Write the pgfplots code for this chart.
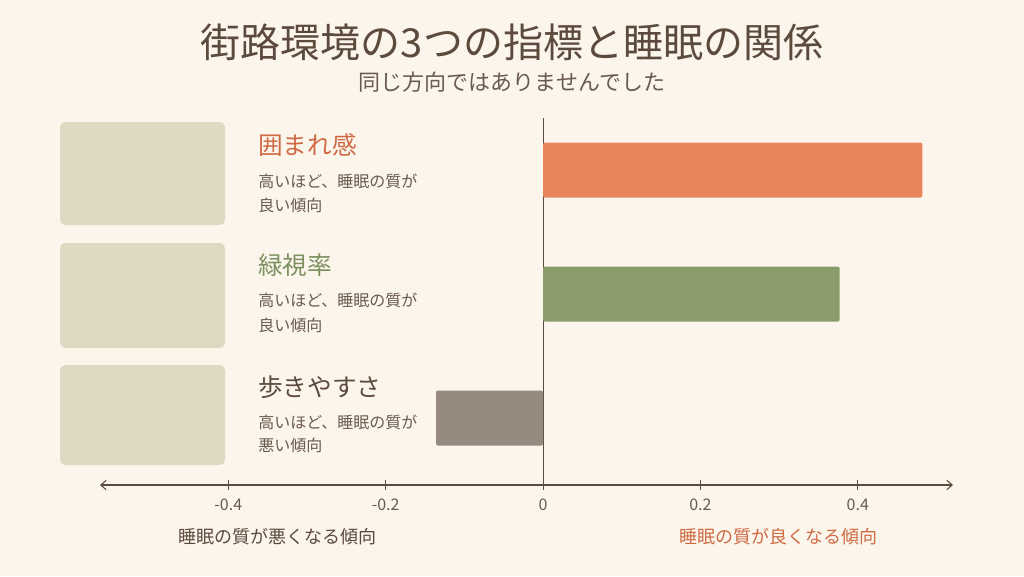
\documentclass[border=0pt]{standalone}
\usepackage{pgfplots}
\pgfplotsset{compat=1.18}
\usepackage{fontspec}
\setmainfont{Noto Sans CJK JP}
\usetikzlibrary{arrows.meta}
\definecolor{Bg}{HTML}{FBF5EC}
\definecolor{Ink}{HTML}{5C4A3D}
\definecolor{SubInk}{HTML}{6B5A4E}
\definecolor{Orange}{HTML}{E8855A}
\definecolor{OrangeTxt}{HTML}{CF6B44}
\definecolor{Sage}{HTML}{8B9C6C}
\definecolor{SageTxt}{HTML}{7D9160}
\definecolor{Taupe}{HTML}{968A7E}
\definecolor{Photo}{HTML}{C9C39E}

\begin{document}
\begin{tikzpicture}
% canvas 1024x576 px, 1 px = 0.75pt
\fill[Bg] (0,0) rectangle (768pt,-432pt);

% title and subtitle
\node[text=Ink, font=\fontsize{30pt}{34pt}\selectfont] at (384pt,-31.5pt) {街路環境の3つの指標と睡眠の関係};
\node[text=SubInk, font=\fontsize{16.5pt}{20pt}\selectfont] at (384pt,-61.5pt) {同じ方向ではありませんでした};

% picture placeholders
\fill[Photo, opacity=0.55, rounded corners=4pt] (45pt,-91.5pt) rectangle (168.75pt,-168.75pt);
\fill[Photo, opacity=0.55, rounded corners=4pt] (45pt,-182.25pt) rectangle (168.75pt,-261pt);
\fill[Photo, opacity=0.55, rounded corners=4pt] (45pt,-273.75pt) rectangle (168.75pt,-348.75pt);

% row labels
\begin{scope}[every node/.style={anchor=west, inner sep=0pt}]
\node[text=OrangeTxt, font=\fontsize{18.5pt}{22pt}\selectfont] at (193.5pt,-108.5pt) {囲まれ感};
\node[text=SubInk, font=\fontsize{12pt}{14pt}\selectfont] at (193.5pt,-135.75pt) {高いほど、睡眠の質が};
\node[text=SubInk, font=\fontsize{12pt}{14pt}\selectfont] at (193.5pt,-153.75pt) {良い傾向};
\node[text=SageTxt, font=\fontsize{18.5pt}{22pt}\selectfont] at (193.5pt,-198.75pt) {緑視率};
\node[text=SubInk, font=\fontsize{12pt}{14pt}\selectfont] at (193.5pt,-225pt) {高いほど、睡眠の質が};
\node[text=SubInk, font=\fontsize{12pt}{14pt}\selectfont] at (193.5pt,-243.75pt) {良い傾向};
\node[text=Ink, font=\fontsize{18.5pt}{22pt}\selectfont] at (193.5pt,-290.25pt) {歩きやすさ};
\node[text=SubInk, font=\fontsize{12pt}{14pt}\selectfont] at (193.5pt,-316.5pt) {高いほど、睡眠の質が};
\node[text=SubInk, font=\fontsize{12pt}{14pt}\selectfont] at (193.5pt,-333.75pt) {悪い傾向};
\end{scope}

\begin{axis}[
    at={(75pt,-363.75pt)}, anchor=south west,
    scale only axis,
    width=639.75pt, height=275.25pt,
    xmin=-0.563, xmax=0.521,
    ymin=0.46, ymax=3.42,
    axis y line=none,
    axis x line*=bottom,
    x axis line style={Ink, line width=0.8pt, {Straight Barb[length=4pt,width=7pt]}-{Straight Barb[length=4pt,width=7pt]}},
    xtick={-0.4,-0.2,0,0.2,0.4},
    xticklabels={-0.4,-0.2,0,0.2,0.4},
    tick align=center,
    major tick length=7pt,
    xtick style={Ink, line width=0.6pt},
    ytick=\empty,
    x tick label style={text=SubInk, font=\fontsize{12pt}{14pt}\selectfont, yshift=-3pt},
    /pgf/number format/assume math mode=true,
    extra x ticks={0},
    extra x tick labels={},
    extra x tick style={grid=major, major grid style={draw=Ink, line width=0.8pt}, major tick length=0pt},
    xbar, bar width=41.25pt, bar shift=0pt,
    every axis plot/.append style={draw=none, rounded corners=1.5pt},
    clip=false,
]
\addplot[fill=Orange] coordinates {(0.482,3)};
\addplot[fill=Sage] coordinates {(0.377,2)};
\addplot[fill=Taupe] coordinates {(-0.136,1)};
\end{axis}

% axis direction captions
\node[text=Ink, font=\fontsize{13.5pt}{16pt}\selectfont] at (208pt,-402.75pt) {睡眠の質が悪くなる傾向};
\node[text=OrangeTxt, font=\fontsize{13.5pt}{16pt}\selectfont] at (583.5pt,-402.75pt) {睡眠の質が良くなる傾向};
\end{tikzpicture}
\end{document}
